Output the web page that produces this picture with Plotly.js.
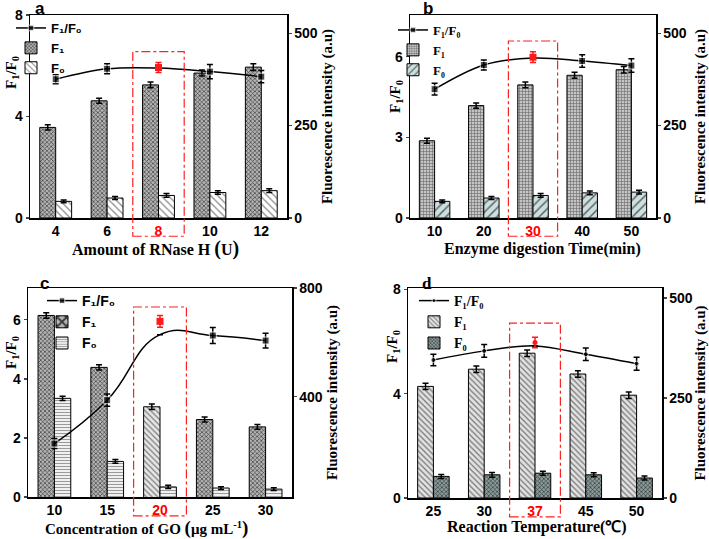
<!DOCTYPE html>
<html><head><meta charset="utf-8">
<script src="https://cdn.plot.ly/plotly-3.0.1.min.js"></script>
<style>html,body{margin:0;padding:0;background:#fff}#chart{width:709px;height:539px}</style>
</head><body><div id="chart"></div>
<script>
// ---------- Panel a : Amount of RNase H ----------
const aCats = ['4','6','8','10','12'];
const aF1 = [245, 317, 360, 392, 408];
const aF1Err = [7, 7, 8, 8, 9];
const aF0 = [45, 54, 61, 69, 74];
const aF0Err = [4, 4, 5, 5, 5];
const aRatio = [5.47, 5.88, 5.93, 5.77, 5.57];
const aRatioErr = [0.18, 0.20, 0.20, 0.28, 0.24];
const aCurve = [5.47, 5.88, 5.91, 5.77, 5.57];
const aHi = 2;

// ---------- Panel b : Enzyme digestion time ----------
const bCats = ['10','20','30','40','50'];
const bF1 = [209, 304, 360, 386, 401];
const bF1Err = [7, 7, 8, 8, 9];
const bF0 = [45, 54, 61, 68, 70];
const bF0Err = [4, 4, 5, 5, 5];
const bRatio = [4.79, 5.69, 5.98, 5.84, 5.67];
const bRatioErr = [0.22, 0.19, 0.20, 0.23, 0.25];
const bCurve = [4.79, 5.69, 5.95, 5.84, 5.67];
const bHi = 2;

// ---------- Panel c : Concentration of GO ----------
const cCats = ['10','15','20','25','30'];
const cF1 = [699, 508, 363, 316, 289];
const cF1Err = [10, 10, 10, 9, 9];
const cF0 = [394, 162, 68, 64, 60];
const cF0Err = [8, 7, 6, 5, 5];
const cRatio = [1.81, 3.28, 5.95, 5.44, 5.30];
const cRatioErr = [0.17, 0.21, 0.20, 0.27, 0.25];
const cCurve = [1.81, 3.28, 5.50, 5.47, 5.30];
const cHi = 2;

// ---------- Panel d : Reaction temperature ----------
const dCats = ['25','30','37','45','50'];
const dF1 = [279, 322, 362, 310, 257];
const dF1Err = [8, 8, 8, 8, 8];
const dF0 = [54, 58, 62, 58, 50];
const dF0Err = [5, 6, 5, 5, 5];
const dRatio = [5.29, 5.64, 5.96, 5.51, 5.15];
const dRatioErr = [0.22, 0.24, 0.20, 0.24, 0.25];
const dCurve = [5.29, 5.64, 5.83, 5.51, 5.15];
const dHi = 2;

const SANS = 'Liberation Sans, Arial, sans-serif';
const SERIF = 'Liberation Serif, Times New Roman, serif';
const W = 709, H = 539;

const panels = [
  {cats:aCats, F1:aF1, F1Err:aF1Err, F0:aF0, F0Err:aF0Err, ratio:aRatio, ratioErr:aRatioErr, curve:aCurve, hi:aHi,
   px:[30,287], py:[15,218], lRange:[0,8], lTicks:[0,4,8], rRange:[0,549], rTicks:[0,250,500], rStand:4,
   xTitle:'Amount of RNase H <span style="font-size:20px">(</span>U<span style="font-size:20px">)</span>', xTitlePos:[155,248], xTitleSize:16,
   sym:'square', msize:7, smooth:1, legFont:SANS, legSize:13, legPos:[11,13], letter:'a', letterPos:[33,9], letterFont:SANS,
   leftTitlePos:[12,73], boxTop:0.82,
   p1:{shape:'x', fg:'#3a3a3a', bg:'#b4b4b4', size:3, sol:0.4},
   p0:{shape:'\\', fg:'#8a8a8a', bg:'#ffffff', size:5, sol:0.25}},
  {cats:bCats, F1:bF1, F1Err:bF1Err, F0:bF0, F0Err:bF0Err, ratio:bRatio, ratioErr:bRatioErr, curve:bCurve, hi:bHi,
   px:[410,656], py:[15,218], lRange:[0,7.55], lTicks:[0,3,6], rRange:[0,549], rTicks:[0,250,500], rStand:9,
   xTitle:'Enzyme digestion Time(min)', xTitlePos:[542,249], xTitleSize:16,
   sym:'square', msize:7, smooth:1, legFont:SERIF, legSize:13, legPos:[393,15], letter:'b', letterPos:[421,9], letterFont:SANS,
   leftTitlePos:[396,97], boxTop:0.872,
   p1:{shape:'+', fg:'#6a6a6a', bg:'#c4c4c4', size:3, sol:0.35},
   p0:{shape:'/', fg:'#5a6a6a', bg:'#cfdede', size:6, sol:0.25}},
  {cats:cCats, F1:cF1, F1Err:cF1Err, F0:cF0, F0Err:cF0Err, ratio:cRatio, ratioErr:cRatioErr, curve:cCurve, hi:cHi,
   px:[28,292], py:[288,497], lRange:[0,7.08], lTicks:[0,2,4,6], rRange:[31,800], rTicks:[400,800], rStand:4,
   xTitle:'Concentration of GO <span style="font-size:19px">(</span>μg mL<sup>-1</sup><span style="font-size:19px">)</span>', xTitlePos:[146,528], xTitleSize:15,
   sym:'square', msize:7, smooth:1.3, legFont:SANS, legSize:14, legPos:[42,285], letter:'c', letterPos:[38,283], letterFont:SANS,
   leftTitlePos:[12,353], boxTop:0.909,
   p1:{shape:'x', fg:'#3a3a3a', bg:'#b4b4b4', size:3, sol:0.4},
   p1hi:{shape:'\\', fg:'#7a7a7a', bg:'#e8e8e8', size:4, sol:0.3},
   p0:{shape:'-', fg:'#9a9a9a', bg:'#f0f0f0', size:3, sol:0.35}},
  {cats:dCats, F1:dF1, F1Err:dF1Err, F0:dF0, F0Err:dF0Err, ratio:dRatio, ratioErr:dRatioErr, curve:dCurve, hi:dHi,
   px:[408,662], py:[288,498], lRange:[0,8.05], lTicks:[0,4,8], rRange:[0,525], rTicks:[0,250,500], rStand:9,
   xTitle:'Reaction Temperature(℃)', xTitlePos:[537,527], xTitleSize:16,
   sym:'circle', msize:5, smooth:1, legFont:SERIF, legSize:14, legPos:[414,285], letter:'d', letterPos:[420,283], letterFont:SERIF,
   leftTitlePos:[393,347], boxTop:0.833,
   p1:{shape:'\\', fg:'#777777', bg:'#e2e2e2', size:4, sol:0.3},
   p0:{shape:'x', fg:'#2e3c3c', bg:'#8c9a9a', size:3, sol:0.4}}
];

const data = [];
const layout = {
  width: W, height: H, margin:{l:0,r:0,t:0,b:0},
  paper_bgcolor:'#fff', plot_bgcolor:'rgba(0,0,0,0)',
  barmode:'group', bargap:0.38, bargroupgap:0,
  showlegend:true, shapes:[], annotations:[],
  font:{family:SANS, color:'#000'}
};

panels.forEach((p, i) => {
  const xa = i === 0 ? 'x' : 'x' + (i + 1);
  const xKey = i === 0 ? 'xaxis' : 'xaxis' + (i + 1);
  const mainN = 2 * i + 1, overN = 2 * i + 2;
  const yMain = mainN === 1 ? 'y' : 'y' + mainN;
  const yOver = 'y' + overN;
  const yMainKey = mainN === 1 ? 'yaxis' : 'yaxis' + mainN;
  const yOverKey = 'yaxis' + overN;
  const lg = i === 0 ? 'legend' : 'legend' + (i + 1);
  const n = p.cats.length;

  const xd = [p.px[0] / W, p.px[1] / W];
  const yd = [1 - p.py[1] / H, 1 - p.py[0] / H];

  const tickFont = {family:SANS, size:14, weight:700, color:'#000'};
  layout[xKey] = {
    domain:xd, anchor:yMain, type:'category', range:[-0.5, n - 0.5],
    tickvals:p.cats,
    ticktext:p.cats.map((c, k) => k === p.hi ? '<span style="color:#ff0000">' + c + '</span>' : c),
    tickfont:tickFont, showline:true, linecolor:'#000', linewidth:1.5, mirror:true,
    ticks:'', showgrid:false, zeroline:false
  };
  layout[yMainKey] = {
    domain:yd, anchor:xa, side:'right', range:p.rRange, tickvals:p.rTicks,
    tickfont:tickFont, showline:true, linecolor:'#000', linewidth:1.5,
    ticks:'outside', ticklen:3, tickwidth:1.2, showgrid:false, zeroline:false,
    title:{text:'Fluorescence intensity (a.u)', font:{family:SERIF, size:15, weight:700, color:'#000'}, standoff:p.rStand}
  };
  layout[yOverKey] = {
    overlaying:yMain, anchor:xa, side:'left', range:p.lRange, tickvals:p.lTicks,
    tickfont:tickFont, showline:true, linecolor:'#000', linewidth:1.5,
    ticks:'outside', ticklen:3, tickwidth:1.2, showgrid:false, zeroline:false
  };

  // x axis title
  layout.annotations.push({
    text:p.xTitle, xref:'paper', yref:'paper',
    x:p.xTitlePos[0] / W, y:1 - p.xTitlePos[1] / H, xanchor:'center', yanchor:'middle', showarrow:false,
    font:{family:SERIF, size:p.xTitleSize, weight:700, color:'#000'}
  });
  // left axis title
  layout.annotations.push({
    text:'F<sub>1</sub>/F<sub>0</sub>', xref:'paper', yref:'paper',
    x:p.leftTitlePos[0] / W, y:1 - p.leftTitlePos[1] / H, xanchor:'center', yanchor:'middle',
    textangle:-90, showarrow:false,
    font:{family:SERIF, size:15, weight:700, color:'#000'}
  });
  // panel letter
  layout.annotations.push({
    text:p.letter, xref:'paper', yref:'paper', x:p.letterPos[0] / W, y:1 - p.letterPos[1] / H,
    xanchor:'left', yanchor:'middle', showarrow:false,
    font:{family:p.letterFont, size:17, weight:700, color:'#000'}
  });
  // highlight box
  layout.shapes.push({
    type:'rect', xref:xa + ' domain', yref:yMain + ' domain',
    x0:p.hi / n, x1:(p.hi + 1) / n, y0:-0.09, y1:p.boxTop,
    line:{color:'#ff2020', width:1.2, dash:'dashdot'}, fillcolor:'rgba(0,0,0,0)'
  });

  layout[lg] = {
    x:p.legPos[0] / W, y:1 - p.legPos[1] / H, xanchor:'left', yanchor:'top',
    bgcolor:'rgba(0,0,0,0)', borderwidth:0, traceorder:'normal', itemwidth:30,
    font:{family:p.legFont, size:p.legSize, weight:700, color:'#000'}, tracegroupgap:0
  };

  // ratio line with black markers
  data.push({
    type:'scatter', mode:'lines+markers', x:p.cats, y:p.curve, xaxis:xa, yaxis:yOver,
    name:'F₁/F₀', legend:lg,
    line:{color:'#000', width:1.5, shape:'spline', smoothing:p.smooth},
    marker:{symbol:p.sym, color:'#000', size:p.cats.map((c, k) => k === p.hi ? 0 : p.msize)},
    error_y:{type:'data', array:p.ratioErr.map((e, k) => k === p.hi ? null : e), color:'#000', thickness:1.5, width:3},
    hoverinfo:'skip'
  });
  // highlighted (red) ratio point
  data.push({
    type:'scatter', mode:'markers', x:p.cats, y:p.ratio.map((v, k) => k === p.hi ? v : null),
    xaxis:xa, yaxis:yOver, showlegend:false, legend:lg,
    marker:{symbol:p.sym, color:'#ff1a1a', size:p.msize},
    error_y:{type:'data', array:p.ratioErr.map((e, k) => k === p.hi ? e : null), color:'#ff1a1a', thickness:1.5, width:3},
    hoverinfo:'skip'
  });

  const mkPat = (base, hiPat) => {
    if (!hiPat) return {shape:base.shape, fgcolor:base.fg, bgcolor:base.bg, size:base.size, solidity:base.sol, fillmode:'replace'};
    const pick = (a, b) => p.cats.map((c, k) => k === p.hi ? b : a);
    return {shape:pick(base.shape, hiPat.shape), fgcolor:pick(base.fg, hiPat.fg), bgcolor:pick(base.bg, hiPat.bg),
            size:pick(base.size, hiPat.size), solidity:pick(base.sol, hiPat.sol), fillmode:'replace'};
  };

  data.push({
    type:'bar', x:p.cats, y:p.F1, xaxis:xa, yaxis:yMain, name:'F₁', legend:lg,
    marker:{color:p.p1.bg, line:{color:'#000', width:1}, pattern:mkPat(p.p1, p.p1hi)},
    error_y:{type:'data', array:p.F1Err, color:'#000', thickness:1.5, width:3}, hoverinfo:'skip'
  });
  data.push({
    type:'bar', x:p.cats, y:p.F0, xaxis:xa, yaxis:yMain, name:'F₀', legend:lg,
    marker:{color:p.p0.bg, line:{color:'#000', width:1}, pattern:mkPat(p.p0)},
    error_y:{type:'data', array:p.F0Err, color:'#000', thickness:1.5, width:3}, hoverinfo:'skip'
  });
});

Plotly.newPlot('chart', data, layout, {displayModeBar:false, staticPlot:true});
</script></body></html>
